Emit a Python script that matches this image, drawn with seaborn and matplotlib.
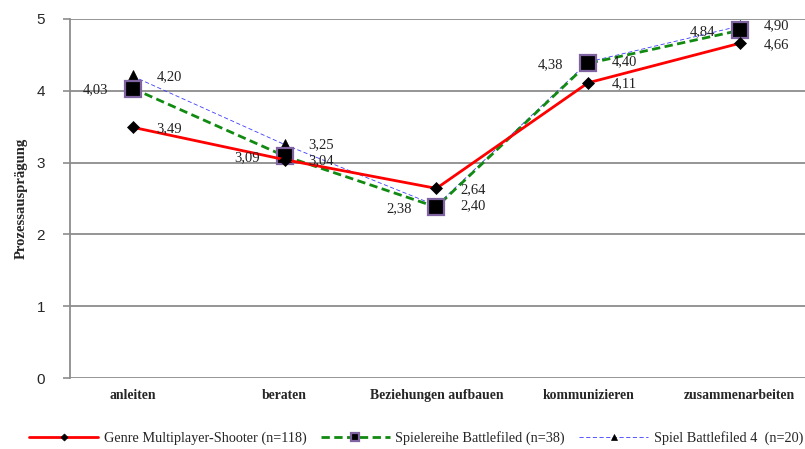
import matplotlib.pyplot as plt
import pandas as pd
import seaborn as sns

# categories and series values
categories = ['anleiten', 'beraten', 'Beziehungen aufbauen', 'kommunizieren', 'zusammenarbeiten']
genre = [3.49, 3.04, 2.64, 4.11, 4.66]
reihe = [4.03, 3.09, 2.38, 4.38, 4.84]
spiel = [4.20, 3.25, 2.40, 4.40, 4.90]
series_names = ['Genre Multiplayer-Shooter (n=118)',
                'Spielereihe Battlefiled (n=38)',
                'Spiel Battlefiled 4  (n=20)']

sns.set_style('white')
plt.rcParams['font.family'] = ['Liberation Serif', 'DejaVu Serif']

df = pd.DataFrame({
    'pos': list(range(len(categories))) * 3,
    'wert': genre + reihe + spiel,
    'serie': [series_names[0]] * 5 + [series_names[1]] * 5 + [series_names[2]] * 5,
})

fig = plt.figure(figsize=(8.05, 4.49), dpi=100)
ax = fig.add_axes([0.087, 0.158, 0.913, 0.8])

# horizontal gridlines
for yv in range(0, 6):
    ax.axhline(yv, color='#8c8c8c', lw=1.3, zorder=1)

styles = {
    series_names[0]: dict(color='red', lw=2.0, ls='-', marker='D', ms=6.5,
                          mfc='black', mec='black', mew=0.5, zorder=5),
    series_names[1]: dict(color='#118a11', lw=2.0, ls=(0, (3, 1.6)), marker='s', ms=11,
                          mfc='black', mec='#8064a2', mew=1.6, zorder=4),
    series_names[2]: dict(color='#3b3bff', lw=0.6, ls=(0, (5, 3)), marker='^', ms=8,
                          mfc='black', mec='black', mew=0.5, zorder=3),
}

for name in [series_names[2], series_names[1], series_names[0]]:
    sub = df[df['serie'] == name]
    st = styles[name]
    sns.lineplot(data=sub, x='pos', y='wert', ax=ax, label=name, sort=False,
                 estimator=None, **st)

# data labels
lab_kw = dict(fontsize=10.5, va='center', color='#222222', zorder=6)
for i in range(len(categories)):
    ax.annotate(f'{genre[i]:.2f}'.replace('.', ','), (i, genre[i]),
                xytext=(17, -1), textcoords='offset points', ha='left', **lab_kw)
    ax.annotate(f'{spiel[i]:.2f}'.replace('.', ','), (i, spiel[i]),
                xytext=(17, 0), textcoords='offset points', ha='left', **lab_kw)
    ax.annotate(f'{reihe[i]:.2f}'.replace('.', ','), (i, reihe[i]),
                xytext=(-18, -1), textcoords='offset points', ha='right', **lab_kw)

ax.set_xlim(-0.415, 4.43)
ax.set_ylim(0, 5)
ax.set_xticks(range(len(categories)))
ax.set_xticklabels(categories, fontsize=9.9, fontweight='bold')
ax.set_yticks(range(0, 6))
ax.set_yticklabels([str(v) for v in range(0, 6)], fontsize=11,
                   family=['Liberation Sans', 'DejaVu Sans'])
ax.tick_params(axis='x', length=0, pad=8)
ax.tick_params(axis='y', length=5, width=1.2, color='#8c8c8c', direction='out', pad=13, left=True)
ax.set_xlabel('')
ax.set_ylabel('Prozessausprägung', fontsize=10.5, fontweight='bold', labelpad=6)

for side in ['top', 'right', 'bottom']:
    ax.spines[side].set_visible(False)
ax.spines['left'].set_color('#8c8c8c')
ax.spines['left'].set_linewidth(1.3)

handles, labels = ax.get_legend_handles_labels()
ax.get_legend().remove()
order = [labels.index(n) for n in series_names]
fig.legend([handles[k] for k in order], [labels[k] for k in order],
           loc='center', bbox_to_anchor=(0.517, 0.025), ncol=3, frameon=False,
           fontsize=10.3, handlelength=4.8, columnspacing=1.0, handletextpad=0.4,
           markerscale=0.55)

fig.savefig('out.png', dpi=100)
